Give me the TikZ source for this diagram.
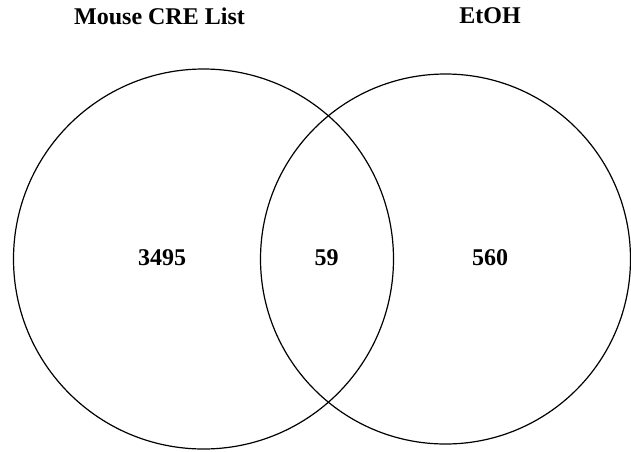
\documentclass[tikz,border=0pt]{standalone}
\usepackage{fontspec}
\setmainfont{Liberation Serif}
\usepackage{tikz}

\tikzset{
	setlabel/.style={anchor=center,inner sep=0.75pt,font=\fontsize{24}{28}\selectfont\bfseries},
	setcount/.style={anchor=center,inner sep=0.75pt,font=\fontsize{24}{28}\selectfont\bfseries},
	setcircle/.style={draw=black,line width=1.2pt}
}

\begin{document}
\begin{tikzpicture}[x=1pt,y=1pt,yscale=-1,xscale=1]
		\useasboundingbox (0,0) rectangle (631,451);
		
		%Shape: Circle [left set]
		\draw [setcircle] (203.5,259) circle (190) ;
		%Shape: Circle [right set]
		\draw [setcircle] (445.5,259) circle (185) ;
		
		% Text Node
		\node (mouseTitle) at (159.5,16) [setlabel] {Mouse CRE List};
		% Text Node
		\node (etohTitle) at (490,16) [setlabel] {EtOH};
		% Text Node
		\node (mouseOnly) at (162,258) [setcount] {3495};
		% Text Node
		\node (bothSets) at (326.5,258) [setcount] {59};
		% Text Node
		\node (etohOnly) at (490,258) [setcount] {560};
	\end{tikzpicture}
\end{document}
